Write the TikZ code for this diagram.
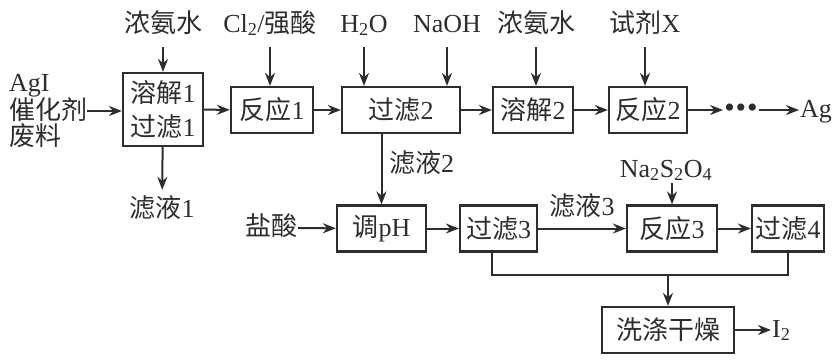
\documentclass[tikz,border=0pt]{standalone}
\usepackage{fontspec}
\setmainfont{Liberation Serif}
\newfontfamily\cjk{Noto Sans CJK SC}
\usetikzlibrary{arrows.meta,positioning,calc}
\definecolor{ink}{RGB}{45,45,45}
\newcommand{\zh}[1]{{\cjk #1}}

\begin{document}
\begin{tikzpicture}[x=1pt,y=-1pt,font=\fontsize{26}{30}\selectfont,text=ink,
  stepbox/.style={draw=ink,line width=2.2pt,minimum height=46pt,inner sep=1pt},
  arr/.style={draw=ink,line width=2pt,-{Stealth[length=13pt,width=10pt]}},
  feedarr/.style={arr,shorten <=9pt},
  pipe/.style={draw=ink,line width=2pt},
  lbl/.style={inner sep=1pt,text height=19pt,text depth=5pt}]
  \useasboundingbox (0,0) rectangle (837,360);

  \node[stepbox,minimum width=80pt,minimum height=73pt,align=center,font=\fontsize{26}{34}\selectfont] (b1) at (163,109.5) {\zh{溶解}1\\\zh{过滤}1};
  \node[stepbox,minimum width=82pt] (r1) at (272,110) {\zh{反应}1};
  \node[stepbox,minimum width=118pt] (f2) at (401,110) {\zh{过滤}2};
  \node[stepbox,minimum width=80pt] (d2) at (533,110) {\zh{溶解}2};
  \node[stepbox,minimum width=78pt] (r2) at (648,110) {\zh{反应}2};
  \node[lbl,font=\fontsize{30}{30}\selectfont] (dots) at (741,110) {\textbullet\kern1pt\textbullet\kern1pt\textbullet};
  \node[lbl,anchor=west] (ag) at (799,110) {Ag};

  \node[inner sep=0pt,anchor=west,align=left,font=\fontsize{26}{26}\selectfont] (feed) at (9,111) {AgI\\\zh{催化剂}\\\zh{废料}};

  \node[lbl] (n1) at (163,25) {\zh{浓氨水}};
  \node[lbl] (cl) at (270,25) {Cl\textsubscript{2}/\zh{强酸}};
  \node[lbl] (h2o) at (364,25) {H\textsubscript{2}O};
  \node[lbl] (naoh) at (447,25) {NaOH};
  \node[lbl] (n2) at (536,25) {\zh{浓氨水}};
  \node[lbl] (sx) at (645,25) {\zh{试剂}X};

  \node[lbl] (ly1) at (162,210) {\zh{滤液}1};
  \node[lbl,anchor=west] (ly2) at (388,165) {\zh{滤液}2};

  \node[stepbox,minimum width=89pt] (ph) at (381.5,228.5) {\zh{调}pH};
  \node[stepbox,minimum width=77pt] (f3) at (498.5,228.5) {\zh{过滤}3};
  \node[stepbox,minimum width=90pt] (r3) at (672,228.5) {\zh{反应}3};
  \node[stepbox,minimum width=72pt] (f4) at (788,228.5) {\zh{过滤}4};
  \node[lbl] (hcl) at (271,228) {\zh{盐酸}};
  \node[lbl] (nas) at (666,170) {Na\textsubscript{2}S\textsubscript{2}O\textsubscript{4}};

  \node[stepbox,minimum width=132pt] (wd) at (668,330) {\zh{洗涤干燥}};
  \node[lbl,anchor=west] (i2) at (771,330) {I\textsubscript{2}};
  \coordinate (bus) at (668,275);

  \draw[arr] (feed.east) -- (feed.east -| b1.west);
  \draw[arr] (b1) -- (r1);
  \draw[arr] (r1) -- (f2);
  \draw[arr] (f2) -- (d2);
  \draw[arr] (d2) -- (r2);
  \draw[arr] (r2) -- (dots);
  \draw[arr] (dots) -- (ag);
  \draw[feedarr] (n1) -- (b1);
  \draw[feedarr] (cl.south) -- (cl.south |- r1.north);
  \draw[feedarr] (h2o.south) -- (h2o.south |- f2.north);
  \draw[feedarr] (naoh.south) -- (naoh.south |- f2.north);
  \draw[feedarr] (n2.south) -- (n2.south |- d2.north);
  \draw[feedarr] (sx.south) -- (sx.south |- r2.north);
  \draw[arr,shorten >=7pt] (b1) -- (ly1);
  \draw[arr] (ph.north |- f2.south) -- (ph.north);
  \draw[arr] (hcl) -- (ph);
  \draw[arr] (ph) -- (f3);
  \draw[arr] (f3) -- node[lbl,above=6pt] (ly3) {\zh{滤液}3} (r3);
  \draw[arr] (r3.north |- nas.south) -- (r3.north);
  \draw[arr] (r3) -- (f4);
  \draw[pipe] ([xshift=-7pt]f3.south) |- (bus) -| (f4.south);
  \draw[arr] (bus) -- (wd);
  \draw[arr] (wd) -- (i2);
\end{tikzpicture}
\end{document}
